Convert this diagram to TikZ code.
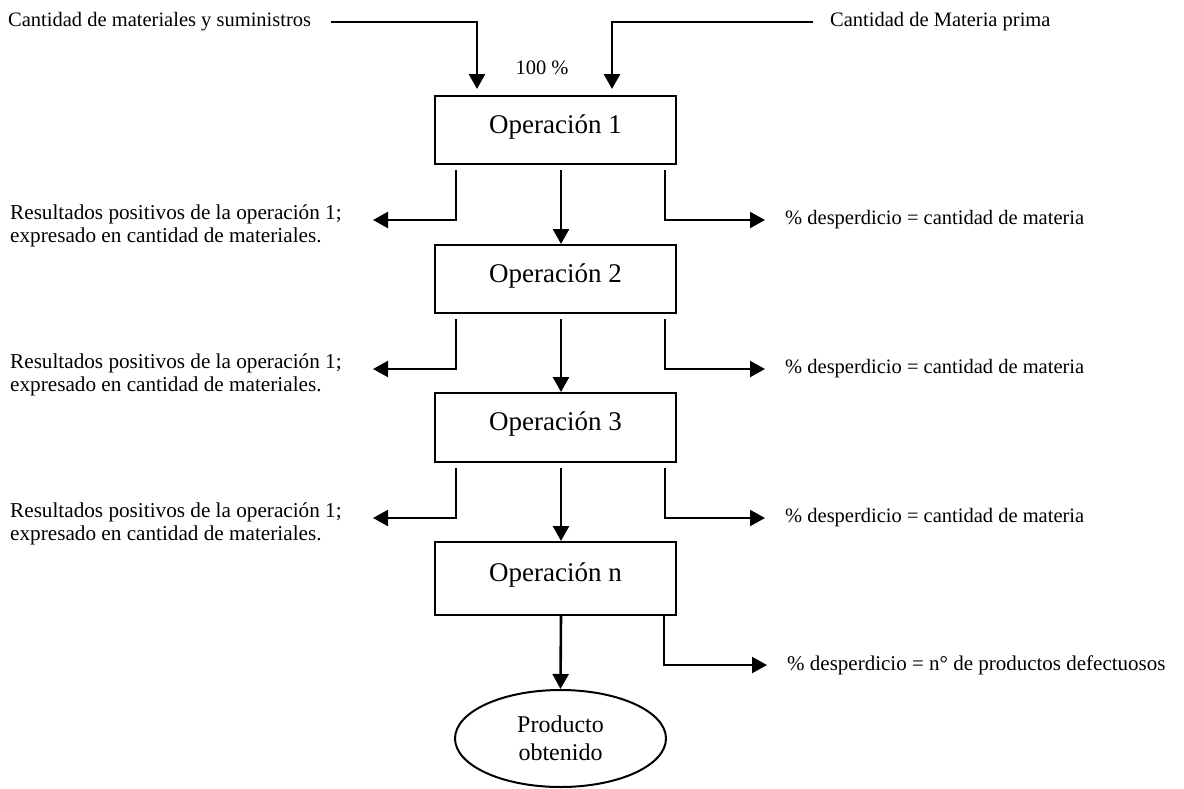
\documentclass[tikz,border=0pt]{standalone}
\usepackage{fontspec}
\setmainfont{Liberation Serif}
\usetikzlibrary{arrows.meta,shapes.geometric,calc}
\begin{document}
\begin{tikzpicture}[x=1pt,y=-1pt,
  opbox/.style={draw,line width=2pt,minimum width=241pt,inner sep=0pt,
    font=\fontsize{27}{30}\selectfont,text height=20pt,text depth=14pt},
  endnode/.style={draw,ellipse,line width=2pt,minimum width=211pt,minimum height=97pt,
    inner sep=0pt,align=center,font=\fontsize{24}{28}\selectfont},
  small/.style={inner sep=0pt,font=\fontsize{20.5}{23}\selectfont},
  flow/.style={line width=2.6pt,-{Triangle[length=15pt,width=16pt]}},
  branch/.style={line width=2.2pt,-{Triangle[length=15pt,width=16pt]}}]
\useasboundingbox (0,0) rectangle (1184,788);

% operation boxes
\node[opbox,minimum height=68pt] (op1) at (555.5,130) {Operación 1};
\node[opbox,minimum height=68pt] (op2) at (555.5,279) {Operación 2};
\node[opbox,minimum height=69pt] (op3) at (555.5,427.5) {Operación 3};
\node[opbox,minimum height=73pt] (opn) at (555.5,578.5) {Operación n};
\node[endnode] (prod) at (560.5,738.5) {Producto\\obtenido};

% inputs
\node[small,anchor=west] (matin) at (8,22) {Cantidad de materiales y suministros};
\node[small,anchor=west] (mpin) at (830,22) {Cantidad de Materia prima};
\node[small] (pct) at (542,68) {100 \%};
\coordinate (inL) at (331,22);
\coordinate (inR) at (813,22);
\draw[flow,shorten >=6pt] (inL) -| (op1.north -| 477,0);
\draw[flow,shorten >=6pt] (inR) -| (op1.north -| 612,0);

% main flow
\draw[flow] ([xshift=5.5pt,yshift=-5pt]op1.south) -- ([xshift=5.5pt]op2.north);
\draw[flow] ([xshift=5.5pt,yshift=-5pt]op2.south) -- ([xshift=5.5pt]op3.north);
\draw[flow] ([xshift=5.5pt,yshift=-5pt]op3.south) -- ([xshift=5.5pt]opn.north);
\draw[flow] ([xshift=5.5pt]opn.south) -- (prod.north);

% side outputs of the operations
\foreach \b/\y in {op1/220,op2/369,op3/518}{
  \coordinate (\b-l) at (373,\y);
  \coordinate (\b-r) at (765,\y);
  \draw[branch] ([yshift=-5pt]\b.south -| 456,0) |- (\b-l);
  \draw[branch] ([yshift=-5pt]\b.south -| 665,0) |- (\b-r);
  \node[small,anchor=west,align=left,font=\fontsize{21.2}{23}\selectfont] (\b-ok) at (10,\y+6)
    {Resultados positivos de la operación 1;\\expresado en cantidad de materiales.};
  \node[small,anchor=west] (\b-waste) at (785,\y) {\% desperdicio = cantidad de materia};
}
\coordinate (opn-r) at (767,665);
\draw[branch] (opn.south -| 664,0) |- (opn-r);
\node[small,anchor=west,font=\fontsize{21}{23}\selectfont] (opn-waste) at (787,665) {\% desperdicio = n° de productos defectuosos};
\end{tikzpicture}
\end{document}
